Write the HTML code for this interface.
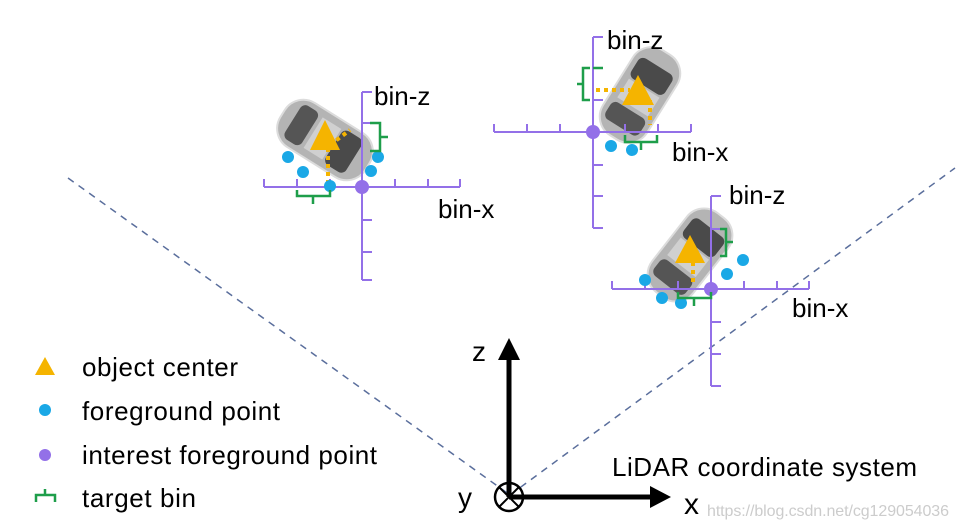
<!DOCTYPE html>
<html><head><meta charset="utf-8"><style>body{margin:0;background:#fff}svg{display:block}text{font-family:"Liberation Sans",sans-serif}</style></head><body>
<svg width="959" height="528" viewBox="0 0 959 528" xmlns="http://www.w3.org/2000/svg">
<g stroke="#5a6e9c" stroke-width="1.5" stroke-dasharray="7,6" fill="none">
<line x1="68" y1="178" x2="510" y2="495"/><line x1="510" y1="495" x2="955" y2="168"/></g>
<defs>
<g id="car"><rect x="-50" y="-26" width="100" height="52" rx="22" fill="#b4b4b4" stroke="#dcdcdc" stroke-width="2"/>
<rect x="-38" y="-20" width="20" height="40" rx="6" fill="#555"/><rect x="10" y="-20" width="24" height="40" rx="6" fill="#4a4a4a"/><rect x="-14" y="-18" width="22" height="36" fill="#d0d0d0"/></g>
</defs>
<use href="#car" transform="translate(325,140) rotate(32)"/>
<use href="#car" transform="translate(640,95) rotate(-58)"/>
<use href="#car" transform="translate(690,255) rotate(-52)"/>
<g stroke="#9370e8" stroke-width="2" fill="none">
<path d="M264,187H460M264,187v-8M297,187v-8M330,187v-8M395,187v-8M428,187v-8M460,187v-8M362,92V280M362,92h10M362,123h10M362,220h10M362,252h10M362,280h10"/>
<path d="M494,132H691M494,132v-8M527,132v-8M560,132v-8M625,132v-8M658,132v-8M691,132v-8M593,37V228M593,37h10M593,68h10M593,100h10M593,165h10M593,196h10M593,228h10"/>
<path d="M612,289H809M612,289v-8M645,289v-8M678,289v-8M744,289v-8M777,289v-8M809,289v-8M711,196V386M711,196h10M711,229h10M711,322h10M711,354h10M711,386h10"/>
</g>
<g stroke="#f5b400" stroke-width="4" stroke-dasharray="4,4" fill="none">
<path d="M330,145L350,130M328,148V185"/><path d="M596,90H630M650,100V125"/><path d="M693,262V285"/></g>
<g fill="#f5b400"><polygon points="325,120 310,150 340,150"/><polygon points="638,75 622,105 654,105"/><polygon points="690,235 675,263 705,263"/></g>
<g fill="#1aa8e6"><circle cx="288" cy="157" r="6"/><circle cx="303" cy="172" r="6"/><circle cx="330" cy="186" r="6"/><circle cx="378" cy="157" r="6"/><circle cx="371" cy="171" r="6"/>
<circle cx="611" cy="146" r="6"/><circle cx="632" cy="150" r="6"/>
<circle cx="645" cy="280" r="6"/><circle cx="662" cy="298" r="6"/><circle cx="681" cy="303" r="6"/><circle cx="727" cy="274" r="6"/><circle cx="743" cy="260" r="6"/></g>
<g fill="#9370e8"><circle cx="362" cy="187" r="7"/><circle cx="593" cy="132" r="7"/><circle cx="711" cy="289" r="7"/></g>
<g stroke="#1e9e4a" stroke-width="2.5" fill="none">
<path d="M370,123h10v28h-10M380,137h8"/><path d="M297,190v6h33v-6M313,196v8"/>
<path d="M603,68h-10M590,68h-7v32h7M583,84h-6"/><path d="M625,135v7h32v-7M641,142v8"/>
<path d="M720,229h6v27h-6M726,242h7"/><path d="M678,292v6h33v-6M694,298v8"/></g>
<g font-size="26" fill="#000"><text x="374" y="105">bin-z</text><text x="438" y="218">bin-x</text>
<text x="607" y="49">bin-z</text><text x="672" y="161">bin-x</text>
<text x="729" y="204">bin-z</text><text x="792" y="317">bin-x</text></g>
<polygon points="45,357 35,375 55,375" fill="#f5b400"/>
<circle cx="45" cy="410" r="6" fill="#1aa8e6"/><circle cx="45" cy="455" r="6" fill="#9370e8"/>
<path d="M36,502v-7h19v7M45,495v-6" stroke="#1e9e4a" stroke-width="2.5" fill="none"/>
<g font-size="26" fill="#000"><text x="82" y="376" textLength="156">object center</text><text x="82" y="420" textLength="198">foreground point</text><text x="82" y="464" textLength="295">interest foreground point</text><text x="82" y="507" textLength="114">target bin</text>
<text x="612" y="476" textLength="305">LiDAR coordinate system</text><text x="472" y="361" font-size="28">z</text><text x="458" y="507" font-size="28">y</text><text x="684" y="514" font-size="30">x</text></g>
<g stroke="#000" stroke-width="5" fill="none"><line x1="509" y1="497" x2="509" y2="358"/><line x1="509" y1="497" x2="650" y2="497"/></g>
<polygon points="509,338 498,360 520,360" fill="#000"/><polygon points="671,497 650,486 650,508" fill="#000"/>
<circle cx="509" cy="497" r="14" fill="none" stroke="#000" stroke-width="2.5"/>
<path d="M499,487L519,507M519,487L499,507" stroke="#000" stroke-width="2"/>
<text x="707" y="516" font-size="16" fill="#ccc" textLength="242">https://blog.csdn.net/cg129054036</text>
</svg></body></html>
